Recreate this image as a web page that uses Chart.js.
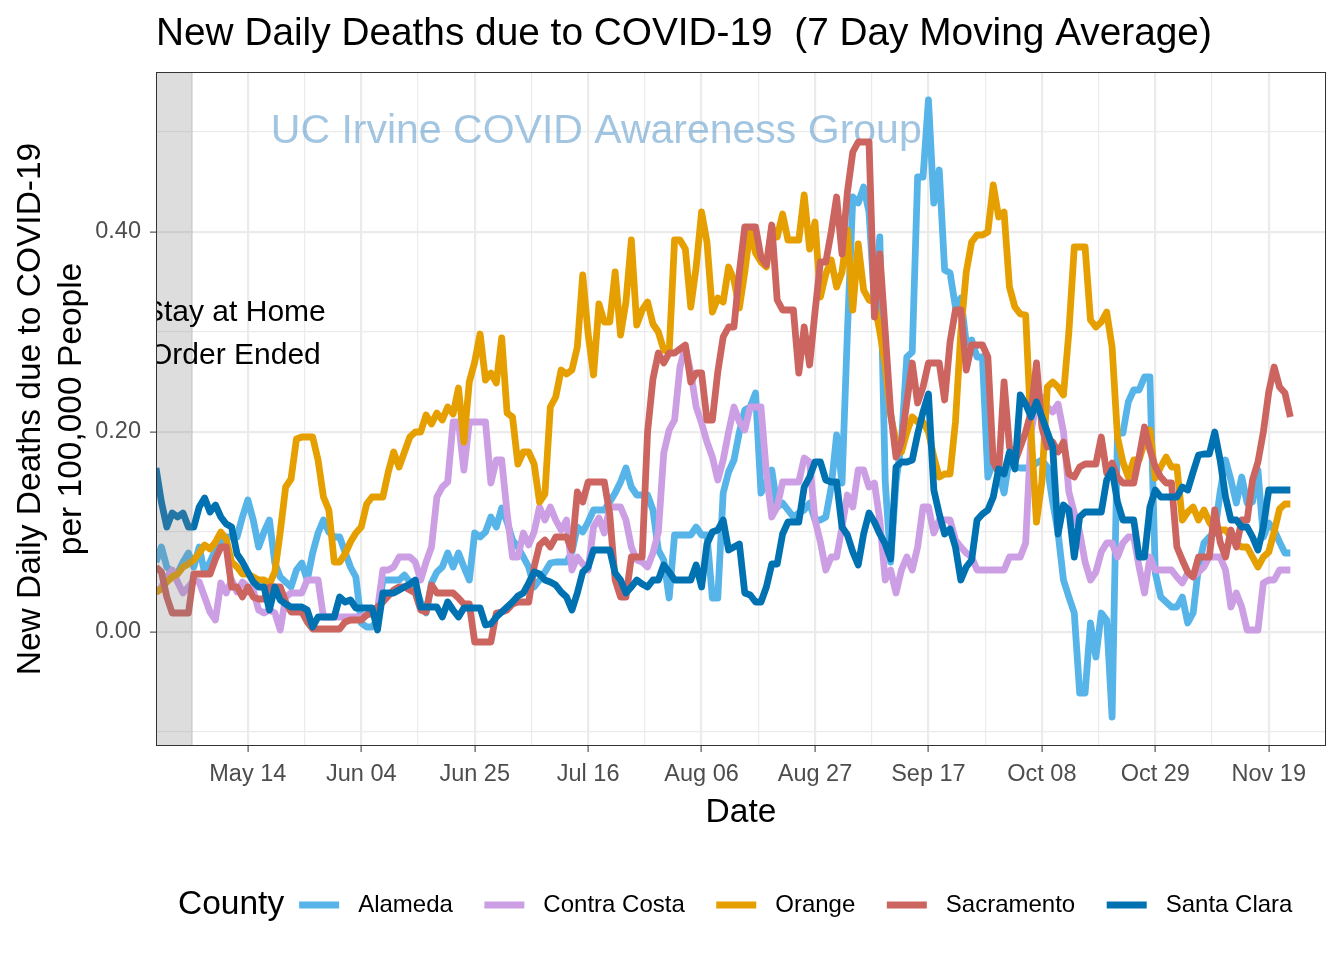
<!DOCTYPE html>
<html>
<head>
<meta charset="utf-8">
<title>New Daily Deaths due to COVID-19</title>
<script src="https://cdn.jsdelivr.net/npm/chart.js@4.4.1/dist/chart.umd.min.js"></script>
<style>
  html, body { margin: 0; padding: 0; background: #fff; }
  #wrap { width: 1344px; height: 960px; }
</style>
</head>
<body>
<div id="wrap"><canvas id="chart" width="1344" height="960"></canvas></div>
<script>
'use strict';

// x values are days since Apr 27 2020
var tickDays = [17, 38, 59, 80, 101, 122, 143, 164, 185, 206];
var tickLabels = ['May 14', 'Jun 04', 'Jun 25', 'Jul 16', 'Aug 06', 'Aug 27', 'Sep 17', 'Oct 08', 'Oct 29', 'Nov 19'];
var minorDays = [6.5, 27.5, 48.5, 69.5, 90.5, 111.5, 132.5, 153.5, 174.5, 195.5, 216.5];
var yMajor = [0, 0.2, 0.4];
var yMinor = [-0.1, 0.1, 0.3, 0.5];

var counties = ['Alameda', 'Contra Costa', 'Orange', 'Sacramento', 'Santa Clara'];
var colors = ['#56B4E9', '#CC9FE5', '#E69F00', '#CC6560', '#0072B2'];

var alameda = [
  .07,.085,.065,.06,.059,.07,.079,.065,.085,.059,
  .07,.082,.089,.095,.095,.095,.115,.132,.112,.085,
  .1,.112,.069,.055,.05,.045,.062,.069,.052,.079,
  .099,.112,.1,.095,.095,.08,.065,.055,.009,.005,
  .005,.012,.052,.052,.052,.052,.057,.05,.045,.03,
  .019,.049,.06,.065,.079,.065,.079,.065,.052,.099,
  .095,.1,.115,.105,.124,.11,.092,.085,.075,.065,
  .045,.052,.06,.069,.07,.07,.07,.08,.105,.1,
  .11,.122,.122,.122,.13,.139,.15,.164,.145,.137,
  .137,.137,.122,.082,.072,.034,.097,.097,.097,.097,
  .105,.097,.097,.034,.034,.139,.16,.172,.2,.222,
  .225,.239,.139,.15,.162,.125,.129,.122,.115,.119,
  .122,.129,.112,.112,.115,.145,.197,.149,.3,.435,
  .429,.445,.42,.33,.395,.15,.07,.15,.19,.275,
  .28,.455,.455,.532,.429,.462,.362,.359,.325,.334,
  .289,.292,.275,.275,.155,.17,.16,.139,.175,.165,
  .164,.164,.165,.169,.172,.165,.13,.099,.052,.035,
  .019,-.061,-.061,.009,-.025,.019,.012,-.085,.199,.199,
  .23,.242,.242,.255,.255,.059,.035,.03,.025,.025,
  .035,.009,.019,.065,.089,.095,.099,.14,.172,.152,
  .129,.155,.129,.13,.162,.095,.109,.102,.09,.079,
  .079
];

var contraCosta = [
  .039,.045,.055,.062,.05,.039,.045,.052,.05,.035,
  .02,.012,.049,.039,.052,.04,.05,.045,.042,.022,
  .019,.022,.019,.002,.035,.039,.039,.039,.052,.052,
  .052,.015,.015,.015,.015,.015,.015,.015,.015,.017,
  .019,.022,.062,.062,.065,.075,.075,.075,.07,.052,
  .07,.085,.135,.145,.15,.21,.21,.162,.21,.21,
  .21,.21,.149,.172,.172,.119,.075,.075,.099,.087,
  .1,.125,.112,.125,.112,.102,.112,.062,.075,.068,
  .062,.105,.114,.099,.125,.125,.125,.112,.085,.072,
  .07,.065,.079,.1,.179,.202,.212,.265,.285,.26,
  .225,.209,.19,.175,.152,.172,.2,.225,.21,.202,
  .225,.225,.225,.159,.115,.125,.15,.15,.15,.15,
  .174,.17,.112,.09,.062,.075,.075,.105,.137,.125,
  .162,.162,.145,.149,.112,.052,.062,.039,.062,.075,
  .062,.085,.125,.125,.099,.112,.112,.112,.092,.085,
  .079,.075,.062,.062,.062,.062,.062,.062,.075,.075,
  .075,.089,.2,.23,.235,.225,.22,.228,.2,.14,
  .119,.1,.07,.052,.06,.08,.089,.089,.075,.089,
  .095,.095,.065,.039,.075,.062,.062,.062,.062,.055,
  .049,.059,.055,.06,.065,.075,.075,.075,.062,.025,
  .039,.025,.002,.002,.002,.049,.052,.052,.062,.062,
  .062
];

var orange = [
  .04,.043,.05,.055,.058,.065,.068,.072,.079,.087,
  .083,.09,.1,.093,.07,.065,.058,.058,.055,.052,
  .052,.048,.06,.1,.145,.153,.193,.195,.195,.195,
  .172,.135,.122,.07,.07,.078,.09,.099,.105,.128,
  .135,.135,.135,.16,.18,.165,.18,.195,.2,.2,
  .217,.208,.219,.212,.225,.218,.244,.19,.25,.27,
  .298,.252,.259,.249,.294,.219,.215,.168,.18,.18,
  .168,.13,.138,.225,.235,.262,.258,.262,.285,.357,
  .298,.257,.328,.31,.31,.36,.297,.33,.392,.307,
  .322,.33,.308,.3,.282,.28,.392,.392,.383,.325,
  .365,.42,.39,.32,.334,.33,.365,.352,.324,.36,
  .402,.379,.37,.365,.405,.395,.418,.392,.392,.392,
  .437,.383,.41,.335,.358,.372,.345,.36,.402,.322,
  .388,.342,.332,.33,.3,.267,.217,.19,.18,.2,
  .215,.21,.21,.2,.175,.155,.158,.158,.21,.3,
  .36,.39,.397,.397,.4,.447,.415,.42,.345,.325,
  .318,.317,.2,.11,.15,.245,.25,.245,.237,.3,
  .385,.385,.385,.312,.305,.31,.32,.285,.195,.17,
  .155,.172,.172,.19,.202,.154,.165,.175,.165,.165,
  .112,.12,.125,.112,.122,.11,.102,.102,.102,.095,
  .088,.085,.085,.075,.065,.075,.08,.1,.123,.128,
  .128
];

var sacramento = [
  .065,.06,.035,.019,.019,.019,.019,.058,.058,.058,
  .058,.073,.085,.085,.045,.045,.035,.045,.035,.033,
  .033,.045,.045,.045,.03,.02,.02,.02,.01,.003,
  .003,.003,.003,.003,.003,.01,.012,.012,.012,.017,
  .019,.025,.03,.036,.042,.045,.045,.042,.039,.022,
  .02,.047,.039,.039,.039,.039,.034,.028,.028,-.01,
  -.01,-.01,-.01,.019,.02,.022,.028,.03,.03,.03,
  .065,.087,.092,.085,.095,.095,.095,.082,.14,.13,
  .15,.15,.15,.15,.118,.052,.035,.035,.075,.075,
  .075,.2,.253,.279,.269,.279,.279,.283,.287,.25,
  .259,.259,.212,.212,.26,.295,.305,.305,.36,.405,
  .405,.405,.375,.367,.407,.332,.322,.322,.322,.259,
  .305,.267,.32,.37,.37,.4,.435,.378,.44,.48,
  .49,.49,.49,.315,.378,.3,.22,.175,.19,.23,
  .269,.229,.245,.269,.269,.269,.232,.29,.322,.322,
  .262,.287,.287,.287,.275,.17,.159,.25,.185,.17,
  .185,.2,.22,.269,.205,.185,.19,.18,.19,.158,
  .155,.165,.168,.168,.168,.195,.159,.169,.155,.149,
  .149,.149,.175,.205,.182,.165,.155,.149,.149,.085,
  .072,.06,.055,.075,.075,.075,.122,.09,.075,.102,
  .085,.112,.112,.152,.17,.2,.24,.265,.245,.239,
  .215
];

var santaClara = [
  .164,.13,.105,.119,.115,.119,.105,.105,.125,.134,
  .12,.127,.115,.108,.105,.078,.07,.06,.05,.045,
  .045,.022,.045,.032,.028,.025,.025,.025,.022,.005,
  .015,.015,.015,.015,.035,.03,.032,.024,.024,.024,
  .024,.002,.039,.039,.039,.042,.045,.048,.052,.025,
  .025,.025,.025,.015,.03,.022,.015,.024,.024,.024,
  .024,.007,.008,.015,.02,.025,.03,.036,.039,.049,
  .06,.058,.052,.05,.047,.04,.035,.022,.039,.06,
  .065,.082,.082,.082,.082,.059,.052,.039,.045,.052,
  .048,.045,.052,.052,.067,.06,.052,.052,.052,.052,
  .067,.045,.088,.1,.102,.112,.082,.085,.088,.039,
  .037,.03,.03,.045,.068,.068,.098,.11,.11,.11,
  .145,.155,.17,.17,.152,.15,.15,.105,.097,.08,
  .067,.098,.119,.11,.098,.088,.073,.165,.17,.17,
  .172,.198,.22,.238,.142,.118,.098,.103,.085,.052,
  .065,.072,.112,.118,.122,.135,.163,.158,.18,.163,
  .237,.228,.215,.23,.215,.2,.185,.098,.127,.122,
  .075,.115,.12,.12,.12,.12,.152,.162,.13,.112,
  .112,.112,.075,.075,.125,.142,.135,.135,.135,.135,
  .145,.142,.16,.177,.178,.178,.2,.172,.135,.112,
  .112,.105,.105,.095,.082,.105,.142,.142,.142,.142,
  .142
];

var series = [alameda, contraCosta, orange, sacramento, santaClara];
var days = alameda.map(function (v, i) { return i; });

var FONT = "'Liberation Sans', Arial, Helvetica, sans-serif";
var LINE = 6.8;
Chart.defaults.font.family = FONT;

function isMinor(list, v) {
  return list.some(function (m) { return Math.abs(m - v) < 1e-6; });
}

// draws watermark, stay-at-home shading, panel border, title and legend
var decorations = {
  id: 'decorations',
  beforeDatasetsDraw: function (chart) {
    var c = chart.ctx, x = chart.scales.x, y = chart.scales.y;
    c.save();
    c.font = '41px ' + FONT;
    c.fillStyle = 'rgba(86,150,200,0.55)';
    c.textAlign = 'center';
    c.textBaseline = 'middle';
    c.fillText('UC Irvine COVID Awareness Group', x.getPixelForValue(81.5), y.getPixelForValue(0.5));
    c.restore();
  },
  afterDatasetsDraw: function (chart) {
    var c = chart.ctx, a = chart.chartArea, x = chart.scales.x, y = chart.scales.y;
    c.save();
    c.beginPath();
    c.rect(a.left, a.top, a.right - a.left, a.bottom - a.top);
    c.clip();
    c.fillStyle = 'rgba(128,128,128,0.27)';
    var x1 = x.getPixelForValue(6.8);
    c.fillRect(a.left, a.top, x1 - a.left, a.bottom - a.top);
    c.font = '30px ' + FONT;
    c.fillStyle = '#000';
    c.textAlign = 'center';
    c.textBaseline = 'middle';
    c.fillText('Stay at Home', x.getPixelForValue(14.6), y.getPixelForValue(0.319));
    c.fillText('Order Ended', x.getPixelForValue(14.6), y.getPixelForValue(0.276));
    c.restore();
  },
  afterDraw: function (chart) {
    var c = chart.ctx, a = chart.chartArea;
    c.save();
    c.strokeStyle = '#333333';
    c.lineWidth = 1;
    c.strokeRect(a.left + 0.5, a.top + 0.5, a.right - a.left - 1, a.bottom - a.top - 1);

    c.fillStyle = '#000';
    c.textAlign = 'left';
    c.textBaseline = 'alphabetic';
    c.font = '38.8px ' + FONT;
    c.fillText('New Daily Deaths due to COVID-19  (7 Day Moving Average)', a.left, 45);

    var lx = 178, ly = 905;
    c.textBaseline = 'middle';
    c.font = '33.5px ' + FONT;
    c.fillText('County', lx, ly);
    lx += c.measureText('County').width + 15;
    c.font = '24px ' + FONT;
    counties.forEach(function (name, i) {
      c.strokeStyle = colors[i];
      c.lineWidth = LINE;
      c.beginPath();
      c.moveTo(lx, ly);
      c.lineTo(lx + 40, ly);
      c.stroke();
      lx += 40 + 19;
      c.fillText(name, lx, ly);
      lx += c.measureText(name).width + 31.5;
    });
    c.restore();
  }
};

var ctx = document.getElementById('chart').getContext('2d');
var chart = new Chart(ctx, {
  type: 'line',
  data: {
    labels: days,
    datasets: counties.map(function (name, i) {
      return {
        label: name,
        data: series[i],
        borderColor: colors[i],
        backgroundColor: colors[i],
        borderWidth: LINE,
        borderJoinStyle: 'round',
        pointRadius: 0,
        tension: 0,
        order: counties.length - i
      };
    })
  },
  options: {
    responsive: false,
    devicePixelRatio: 1,
    animation: false,
    events: [],
    layout: { padding: { left: 0, top: 72, right: 18, bottom: 0 } },
    plugins: {
      legend: { display: false },
      tooltip: { enabled: false },
      title: { display: false }
    },
    scales: {
      x: {
        type: 'linear',
        min: 0,
        max: 216.6,
        afterFit: function (s) { s.height = 214; },
        afterBuildTicks: function (s) {
          s.ticks = tickDays.concat(minorDays).sort(function (a, b) { return a - b; })
            .map(function (v) { return { value: v }; });
        },
        ticks: {
          autoSkip: false,
          maxRotation: 0,
          padding: 8,
          color: '#4D4D4D',
          font: { size: 23.5 },
          callback: function (v) {
            var k = tickDays.indexOf(v);
            return k >= 0 ? tickLabels[k] : '';
          }
        },
        grid: {
          color: '#EBEBEB',
          lineWidth: function (c) { return isMinor(minorDays, c.tick.value) ? 1.2 : 2.2; },
          tickLength: 6,
          tickWidth: 1,
          tickColor: function (c) { return isMinor(minorDays, c.tick.value) ? 'rgba(0,0,0,0)' : '#333333'; }
        },
        border: { display: false },
        title: {
          display: true,
          text: 'Date',
          color: '#000',
          font: { size: 33.5 },
          padding: { top: 0, bottom: 127 }
        }
      },
      y: {
        min: -0.114,
        max: 0.56,
        afterFit: function (s) { s.width = 156; },
        afterBuildTicks: function (s) {
          s.ticks = yMajor.concat(yMinor).sort(function (a, b) { return a - b; })
            .map(function (v) { return { value: v }; });
        },
        ticks: {
          padding: 9,
          color: '#4D4D4D',
          font: { size: 23.5 },
          callback: function (v) {
            return isMinor(yMinor, v) ? '' : v.toFixed(2);
          }
        },
        grid: {
          color: '#EBEBEB',
          lineWidth: function (c) { return isMinor(yMinor, c.tick.value) ? 1.2 : 2.2; },
          tickLength: 6,
          tickWidth: 1,
          tickColor: function (c) { return isMinor(yMinor, c.tick.value) ? 'rgba(0,0,0,0)' : '#333333'; }
        },
        border: { display: false },
        title: {
          display: true,
          text: ['New Daily Deaths due to COVID-19', 'per 100,000 People'],
          color: '#000',
          font: { size: 33.5 },
          padding: { top: 11, bottom: 0 }
        }
      }
    }
  },
  plugins: [decorations]
});
</script>
</body>
</html>
